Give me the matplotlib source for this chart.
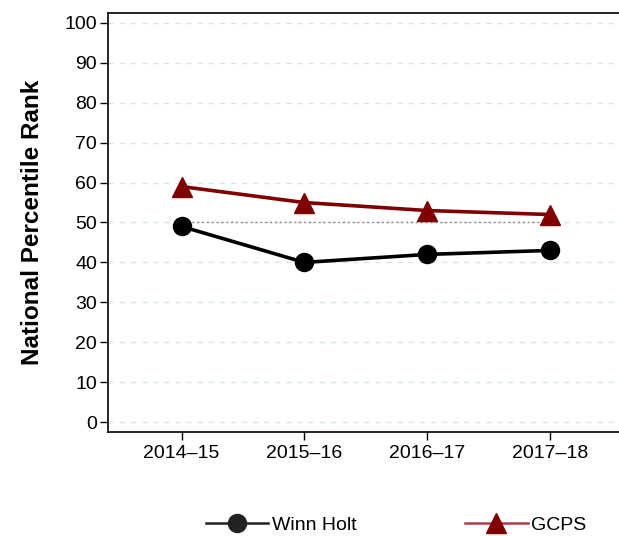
import matplotlib
matplotlib.use("Agg")
import matplotlib.pyplot as plt
from matplotlib.lines import Line2D
from matplotlib import font_manager

years = ["2014\u201315", "2015\u201316", "2016\u201317", "2017\u201318"]
winn_holt = [49, 40, 42, 43]
gcps = [59, 55, 53, 52]
reference = 50
yticks = list(range(0, 101, 10))

plt.rcParams['font.family'] = ['Liberation Sans', 'DejaVu Sans']
names = {f.name for f in font_manager.fontManager.ttflist}
narrow = 'Liberation Sans Narrow' if 'Liberation Sans Narrow' in names else 'Liberation Sans'

fig = plt.figure(figsize=(6.19, 5.36), dpi=100)
ax = fig.add_axes([108/619, 1-432/536, 1-108/619, (432-13)/536])

x = list(range(1, len(years)+1))
ax.set_xlim(0.4, 0.4 + (619-108)/122.7)
ax.set_ylim(-2.5, 102.5)

for t in yticks:
    ax.axhline(t, color='#d8e6e8', lw=1.0, ls=(0, (4, 4)), zorder=0)
ax.plot([x[0], x[-1]], [reference, reference], color='#888888', lw=1.0, ls=(0, (1.5, 2)), zorder=1)

ax.plot(x, gcps, color='#800000', lw=2.6, marker='^', markersize=14, zorder=3)
ax.plot(x, winn_holt, color='black', lw=2.6, marker='o', markersize=13, zorder=3)

ax.set_xticks(x)
ax.set_xticklabels(years, fontsize=14)
ax.set_yticks(yticks)
ax.set_yticklabels([str(t) for t in yticks], fontsize=14)
ax.tick_params(axis='both', direction='out', length=6, width=1, colors='black', pad=3)
ax.tick_params(axis='y', pad=2)
ax.spines['right'].set_visible(False)
for s in ['left', 'top', 'bottom']:
    ax.spines[s].set_linewidth(1.2)
ax.set_ylabel('National Percentile Rank', fontsize=17.5, fontweight='bold')
ax.yaxis.set_label_coords(-(108-44)/511, 0.5)

handles = [
    Line2D([], [], color='#222222', lw=1.8, marker='o', markersize=13,
           markerfacecolor='#222222', markeredgecolor='#222222'),
    Line2D([], [], color='#b03a48', lw=1.8, marker='^', markersize=14,
           markerfacecolor='#800000', markeredgecolor='#800000'),
]
leg = fig.legend(handles, ['Winn Holt', 'GCPS'], loc='center', bbox_to_anchor=(0.64, 0.02),
                 ncol=2, frameon=False, prop={'family': narrow, 'size': 14},
                 handlelength=3.2, handletextpad=0.2, columnspacing=5.6, borderpad=0)

fig.savefig('out.png', dpi=100)
